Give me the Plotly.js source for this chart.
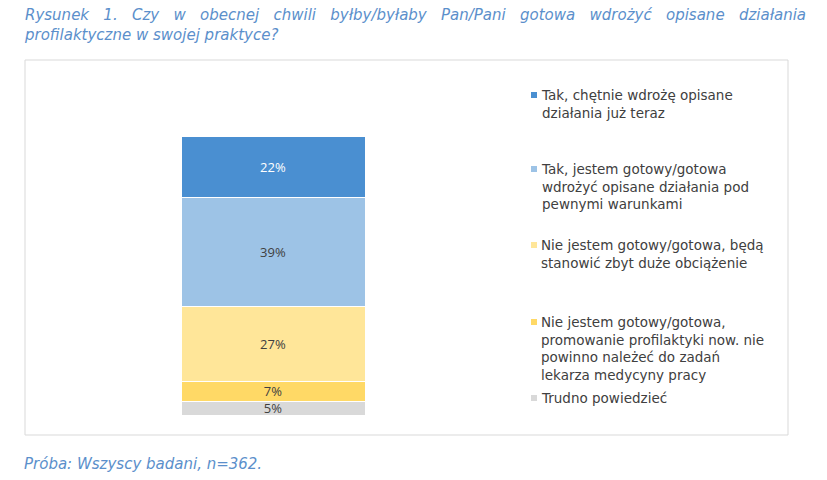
<!DOCTYPE html>
<html><head><meta charset="utf-8">
<script src="https://cdn.plot.ly/plotly-3.0.1.min.js"></script>
<style>html,body{margin:0;padding:0;background:#fff}#chart{width:827px;height:480px}</style>
</head><body><div id="chart"></div>
<script>
const categories = ["Tak, chętnie wdrożę opisane działania już teraz",
  "Tak, jestem gotowy/gotowa wdrożyć opisane działania pod pewnymi warunkami",
  "Nie jestem gotowy/gotowa, będą stanowić zbyt duże obciążenie",
  "Nie jestem gotowy/gotowa, promowanie profilaktyki now. nie powinno należeć do zadań lekarza medycyny pracy",
  "Trudno powiedzieć"];
const legendLabels = ["Tak, chętnie wdrożę opisane<br>działania już teraz",
  "Tak, jestem gotowy/gotowa<br>wdrożyć opisane działania pod<br>pewnymi warunkami",
  "Nie jestem gotowy/gotowa, będą<br>stanowić zbyt duże obciążenie",
  "Nie jestem gotowy/gotowa,<br>promowanie profilaktyki now. nie<br>powinno należeć do zadań<br>lekarza medycyny pracy",
  "Trudno powiedzieć"];
const values = [22, 39, 27, 7, 5];
const colors = ["#4A8FD1", "#9DC3E6", "#FFE699", "#FFD966", "#D9D9D9"];
const labelColors = ["#FFFFFF", "#404040", "#404040", "#404040", "#404040"];
const W = 827, H = 480;
const px = x => x / W, py = y => 1 - y / H;

// stack order bottom to top: reversed
const traces = [];
for (let i = values.length - 1; i >= 0; i--) {
  traces.push({
    type: 'bar', x: ['A'], y: [values[i]], name: categories[i],
    marker: {color: colors[i], line: {color: '#FFFFFF', width: 1}},
    text: [values[i] + '%'], textposition: 'inside', insidetextanchor: 'middle', constraintext: 'none',
    textfont: {family: 'Open Sans, sans-serif', size: 13, color: labelColors[i]},
    textangle: 0, showlegend: false, hoverinfo: 'none', cliponaxis: false
  });
}
const legendY = [87, 161, 237, 314, 390];
const shapes = [{type: 'rect', xref: 'paper', yref: 'paper', x0: px(25), x1: px(788), y0: py(60), y1: py(435),
  line: {color: '#D9D9D9', width: 1}, fillcolor: 'rgba(0,0,0,0)'}];
const annotations = [];
legendLabels.forEach((t, i) => {
  const top = legendY[i];
  shapes.push({type: 'rect', xref: 'paper', yref: 'paper', x0: px(531), x1: px(537), y0: py(top + 5), y1: py(top + 11),
    line: {width: 0}, fillcolor: colors[i]});
  annotations.push({xref: 'paper', yref: 'paper', x: px(539), y: py(top - 2), xanchor: 'left', yanchor: 'top',
    align: 'left', showarrow: false, text: t,
    font: {family: 'DejaVu Sans, sans-serif', size: 13.5, color: '#404040'}});
});
const titleFont = {family: 'DejaVu Sans, sans-serif', size: 15, color: '#5B8FCB', style: 'italic'};
const titleWords = ["Rysunek", "1.", "Czy", "w", "obecnej", "chwili", "byłby/byłaby", "Pan/Pani", "gotowa", "wdrożyć", "opisane", "działania"];
annotations.push({xref: 'paper', yref: 'paper', x: px(22), y: py(4), xanchor: 'left', yanchor: 'top', align: 'left', showarrow: false,
  text: '<i>' + titleWords.join('\u00A0\u00A0 ') + '<br>profilaktyczne w swojej praktyce?</i>', font: titleFont});
annotations.push({xref: 'paper', yref: 'paper', x: px(22), y: py(453), xanchor: 'left', yanchor: 'top', align: 'left', showarrow: false,
  text: '<i>Próba: Wszyscy badani, n=362.</i>', font: titleFont});

const layout = {
  width: W, height: H, margin: {l: 0, r: 0, t: 0, b: 0}, paper_bgcolor: '#fff', plot_bgcolor: '#fff',
  barmode: 'stack', bargap: 0,
  xaxis: {domain: [px(181), px(365)], visible: false, fixedrange: true},
  yaxis: {domain: [py(415), py(136)], range: [0, 100], visible: false, fixedrange: true},
  shapes: shapes, annotations: annotations, showlegend: false
};
Plotly.newPlot('chart', traces, layout, {displayModeBar: false, staticPlot: true});
</script></body></html>
